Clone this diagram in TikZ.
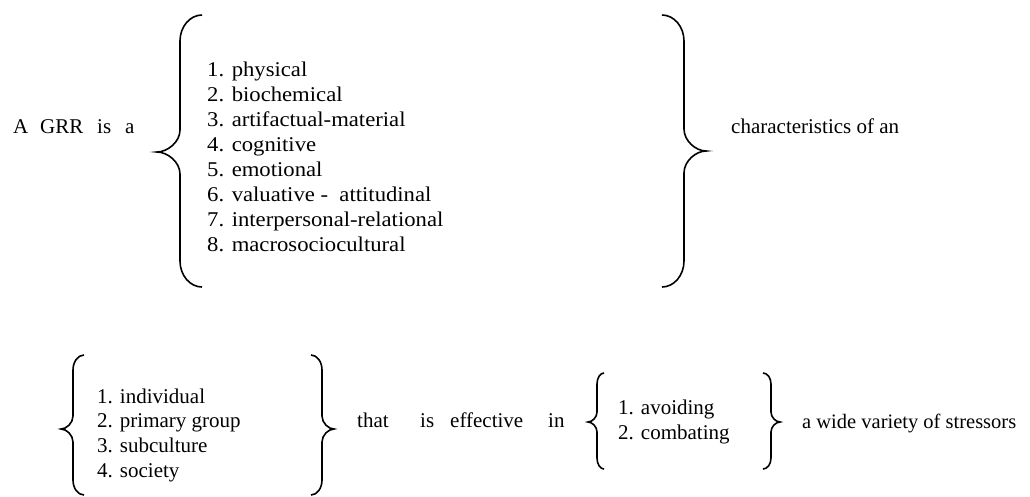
\documentclass[tikz,border=0pt]{standalone}
\usepackage{fontspec}
\setmainfont{Liberation Serif}
\newfontfamily\cambr[FakeStretch=1.08]{Liberation Serif}
% #1 end x, #2 vertical x, #3 tip x, #4 top y, #5 tip y, #6 bottom y, #7 end radius, #8 tip radius
\newcommand\drawbr[8]{%
  \draw[bracestyle] (#1,#4)
    .. controls ({#1+0.55*(#2-#1)},#4) and (#2,{#4+0.45*#7}) .. (#2,{#4+#7})
    -- (#2,{#5-#8})
    .. controls (#2,{#5-0.45*#8}) and ({#3+0.45*(#2-#3)},#5) .. (#3,#5)
    .. controls ({#3+0.45*(#2-#3)},#5) and (#2,{#5+0.45*#8}) .. (#2,{#5+#8})
    -- (#2,{#6-#7})
    .. controls (#2,{#6-0.45*#7}) and ({#1+0.55*(#2-#1)},#6) .. (#1,#6);}
\begin{document}
\begin{tikzpicture}[x=1pt,y=-1pt,
  bracestyle/.style={line width=1.6pt,line join=miter},
  txt/.style={anchor=base west,inner sep=0pt,font=\fontsize{21}{25}\selectfont},
  ctxt/.style={anchor=base west,inner sep=0pt,font=\cambr\fontsize{21}{25}\selectfont}]
\useasboundingbox[fill=white] (0,0) rectangle (1030,496);
% top row
\node[txt] (wA) at (13,133) {A};
\node[txt] (wGRR) at (40,133) {GRR};
\node[txt] (wis) at (97,133) {is};
\node[txt] (wa) at (125,133) {a};
\drawbr{202}{180}{157}{15}{152}{287}{26}{22}
\node[ctxt] (l1) at (207,76) {1. physical};
\node[ctxt] (l2) at (207,101) {2. biochemical};
\node[ctxt] (l3) at (207,126) {3. artifactual-material};
\node[ctxt] (l4) at (207,151) {4. cognitive};
\node[ctxt] (l5) at (207,176) {5. emotional};
\node[ctxt] (l6) at (207,201) {6. valuative -\ \ attitudinal};
\node[ctxt] (l7) at (207,226) {7. interpersonal-relational};
\node[ctxt] (l8) at (207,251) {8. macrosociocultural};
\drawbr{662}{684}{706}{15}{151}{287}{26}{22}
\node[txt] (chr) at (731,133) {characteristics of an};
% bottom row
\drawbr{84}{73}{61}{355}{429}{495}{15}{13}
\node[txt] (b1) at (97,403) {1. individual};
\node[txt] (b2) at (97,427.7) {2. primary group};
\node[txt] (b3) at (97,452.3) {3. subculture};
\node[txt] (b4) at (97,477) {4. society};
\drawbr{311}{322}{334}{355}{429}{495}{15}{13}
\node[txt] (wthat) at (357,427) {that};
\node[txt] (wis2) at (420,427) {is};
\node[txt] (weff) at (450,427) {effective};
\node[txt] (win) at (548,427) {in};
\drawbr{604}{597}{588}{373}{422}{469}{11}{10}
\node[txt] (c1) at (618,414) {1. avoiding};
\node[txt] (c2) at (618,439) {2. combating};
\drawbr{763}{771}{780}{373}{422}{469}{11}{10}
\node[txt,font=\fontsize{20.5}{25}\selectfont] (str) at (802,428) {a wide variety of stressors};
\end{tikzpicture}
\end{document}
